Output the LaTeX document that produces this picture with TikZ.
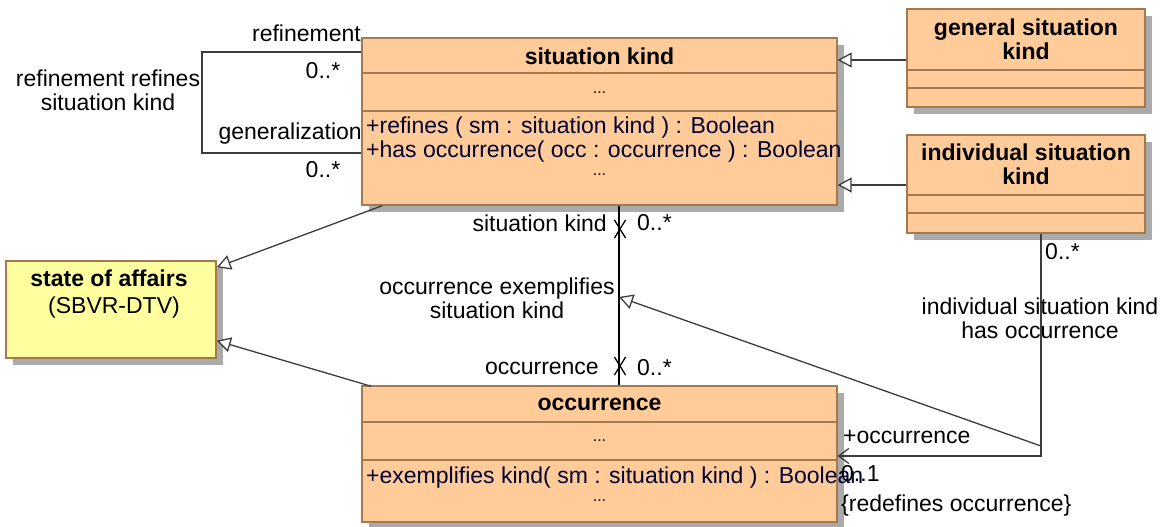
\documentclass[tikz,border=0pt]{standalone}
\usepackage{fontspec}
\setmainfont{Liberation Sans}
\definecolor{umlFill}{RGB}{255,204,153}
\definecolor{umlLine}{RGB}{165,120,80}
\definecolor{umlYellow}{RGB}{255,255,160}
\definecolor{umlShadow}{RGB}{170,170,170}
\definecolor{umlText}{RGB}{0,0,51}
\definecolor{umlEdge}{RGB}{60,60,60}
\usetikzlibrary{arrows.meta,positioning,shapes.misc,calc}

\begin{document}
\begin{tikzpicture}[x=1pt, y=-1pt,
    font=\fontsize{23}{24}\selectfont,
    cls/.style={rectangle, draw=umlLine, fill=umlFill, line width=1.4pt,
                inner sep=0pt},
    shd/.style={rectangle, fill=umlShadow, draw=none, inner sep=0pt},
    cline/.style={draw=umlLine, line width=1.4pt},
    title/.style={font=\fontsize{23}{24}\selectfont\bfseries, align=center, inner sep=0pt},
    oper/.style={text=umlText, anchor=west, inner sep=0pt},
    dots/.style={font=\fontsize{16}{18}\selectfont, inner sep=0pt},
    lbl/.style={inner sep=0pt, align=center},
    edge/.style={draw=umlEdge, line width=1.3pt},
    gen/.style={edge, -{Triangle[open, length=14pt, width=15pt, fill=white]}},
    nav/.style={edge, -{Straight Barb[length=10pt, width=15pt]}},
    xmark/.style={cross out, draw=black, line width=1.3pt, minimum width=10pt,
                  minimum height=17pt, inner sep=0pt}
  ]
  \useasboundingbox (0,0) rectangle (1162,527);

  % shadows, then classes
  \foreach \x/\y/\w/\h in {599.5/121.5/475/167, 1026/58/238/98, 1026/184/238/98,
                           111/309.5/210/97, 599.5/454/475/136}
    \node[shd, minimum width=\w pt, minimum height=\h pt] at (\x+7,\y+7) {};

  \node[cls, minimum width=475pt, minimum height=167pt] (sk)  at (599.5,121.5) {};
  \node[cls, minimum width=238pt, minimum height=98pt]  (gsk) at (1026,58) {};
  \node[cls, minimum width=238pt, minimum height=98pt]  (isk) at (1026,184) {};
  \node[cls, fill=umlYellow, minimum width=210pt, minimum height=97pt] (soa) at (111,309.5) {};
  \node[cls, minimum width=475pt, minimum height=136pt] (occ) at (599.5,454) {};

  % compartments
  \foreach \n/\ya/\yb in {sk/73/111, gsk/70/88, isk/195/213, occ/422/460} {
    \draw[cline] (\n.west |- 0,\ya) -- (\n.east |- 0,\ya);
    \draw[cline] (\n.west |- 0,\yb) -- (\n.east |- 0,\yb);
  }

  \node[title] (skT)  at (599.5,56) {situation kind};
  \node[dots]  (skA)  at (599.5,93) {...};
  \node[oper]  (skO1) at (366,128) {+refines ( sm : situation kind ) : Boolean};
  \node[oper]  (skO2) at (366,152) {+has occurrence( occ : occurrence ) : Boolean};
  \node[dots]  (skO3) at (599.5,175) {...};

  \node[title] (gskT) at (1026,39) {general situation\\kind};
  \node[title] (iskT) at (1026,164) {individual situation\\kind};

  \node[title] (soaT) at (109,278) {state of affairs};
  \node[lbl]   (soaS) at (114,308) {(SBVR-DTV)};

  \node[title] (occT) at (599.5,404) {occurrence};
  \node[dots]  (occA) at (599.5,441) {...};
  \node[oper]  (occO) at (366,478) {+exemplifies kind( sm : situation kind ) : Boolean};
  \node[dots]  (occO2) at (599.5,501) {...};

  % generalizations
  \draw[gen] (gsk.west |- 0,60) -- (sk.east |- 0,60);
  \draw[gen] (isk.west |- 0,185) -- (sk.east |- 0,185);
  \draw[gen] ($(sk.south west)+(21,0)$) -- ($(soa.north east)+(0,7)$);
  \draw[gen] ($(occ.north west)+(10,1)$) -- ($(soa.south east)+(0,-18)$);

  % refinement refines situation kind
  \coordinate (rl) at (202,0);
  \draw[edge] (sk.west |- 0,52) -- (rl |- 0,52) -- (rl |- 0,153) -- (sk.west |- 0,153);
  \node[lbl, anchor=east] (refR) at (361,33) {refinement};
  \node[lbl] (refM) at (323,71) {0..*};
  \node[lbl, anchor=east] (genR) at (362,134) {generalization};
  \node[lbl] (genM) at (323,170) {0..*};
  \node[lbl] (refN) at (108,90) {refinement refines\\situation kind};

  % occurrence exemplifies situation kind
  \coordinate (ax) at (619,0);
  \draw[line width=1.3pt] (ax |- sk.south) -- (ax |- occ.north);
  \node[xmark] (x1) at (620,229) {};
  \node[xmark] (x2) at (620,366) {};
  \node[lbl, anchor=east] (exSK) at (607,223) {situation kind};
  \node[lbl, anchor=west] (exSM) at (637,223) {0..*};
  \node[lbl, anchor=east] (exOC) at (599,368) {occurrence};
  \node[lbl, anchor=west] (exOM) at (637,368) {0..*};
  \node[lbl] (exN) at (497,298) {occurrence exemplifies\\situation kind};

  % individual situation kind has occurrence
  \coordinate (hx) at (1041,0);
  \coordinate (hc) at (1041,456);
  \coordinate (hg) at (1041,446);
  \draw[nav] (hx |- isk.south) -- (hc) -- (hc -| occ.east);
  \draw[gen] (hg) -- (ax |- 0,297);
  \node[lbl, anchor=west] (hoM) at (1045,252) {0..*};
  \node[lbl] (hoN) at (1040,318) {individual situation kind\\has occurrence};
  \node[lbl, anchor=west] (hoR) at (843,437) {+occurrence};
  \node[lbl, anchor=west] (hoO) at (841,474) {0..1};
  \node[lbl, anchor=west] (hoC) at (841,506) {\{redefines occurrence\}};
\end{tikzpicture}
\end{document}
